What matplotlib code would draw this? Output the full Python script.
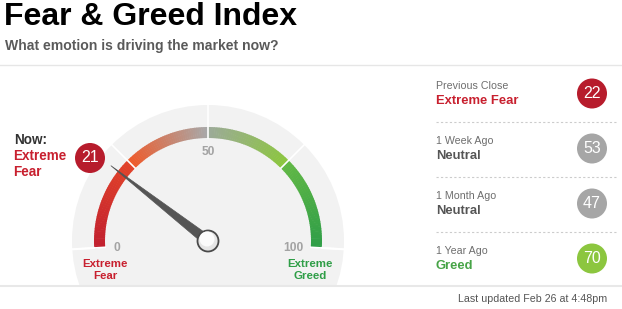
import numpy as np
import matplotlib.pyplot as plt
from matplotlib.patches import Wedge, Circle, Polygon
from matplotlib.colors import to_rgb

plt.rcParams['font.family'] = ['Liberation Sans', 'DejaVu Sans']

# data
now_value = 21
now_label = "Extreme\nFear"
hist_titles = ["Previous Close", "1 Week Ago", "1 Month Ago", "1 Year Ago"]
hist_labels = ["Extreme Fear", "Neutral", "Neutral", "Greed"]
hist_values = [22, 53, 47, 70]
hist_label_colors = ["#c8202f", "#555555", "#555555", "#47a447"]
hist_badge_colors = ["#b71c2c", "#a6a6a6", "#a6a6a6", "#8cc63f"]
segment_edges = [0, 25, 50, 75, 100]
segment_colors = [("#c1202f", "#e2432a"), ("#ef5a2a", "#a8a8a8"),
                  ("#9caa99", "#8cc63f"), ("#62b846", "#2f9e47")]
updated = "Last updated Feb 26 at 4:48pm"

W, H = 622, 309
fig = plt.figure(figsize=(W / 100, H / 100), dpi=100)
ax = fig.add_axes([0, 0, 1, 1])
ax.set_xlim(0, W)
ax.set_ylim(H, 0)
ax.set_aspect('equal')
ax.axis('off')

PT = 0.72  # px -> pt

cx, cy = 208, 241
r_disc, r_out, r_in = 136, 114, 103
ext = 3.5  # arc extends a bit below horizontal


def ang(v):
    return 180 - v * 1.8


def wedge(r, a1, a2, width=None, **kw):
    # visual angles a1<a2 (counterclockwise, y up); axis y is inverted
    return Wedge((cx, cy), r, -a2, -a1, width=width, **kw)


def pol(r, a):
    t = np.radians(a)
    return cx + r * np.cos(t), cy - r * np.sin(t)


# header
ax.text(4, 17, "Fear & Greed Index", fontsize=32 * PT, fontweight='bold',
        color='black', va='center', ha='left')
ax.text(5, 46, "What emotion is driving the market now?", fontsize=14 * PT,
        fontweight='bold', color='#5a5a5a', va='center', ha='left')
ax.plot([0, W], [64.5, 64.5], color='#e6e6e6', lw=1)
ax.plot([0, W], [286, 286], color='#e8e8e8', lw=1.5)

# background disc, clipped at bottom line
disc = Circle((cx, cy), r_disc, color='#f2f2f2', lw=0)
ax.add_patch(disc)
clip = plt.Rectangle((0, 0), W, 285, transform=ax.transData)
disc.set_clip_path(clip)

# colored arc with gradient per segment
for i in range(4):
    v0, v1 = segment_edges[i], segment_edges[i + 1]
    c0, c1 = np.array(to_rgb(segment_colors[i][0])), np.array(to_rgb(segment_colors[i][1]))
    a_start, a_end = ang(v0), ang(v1)
    if i == 0:
        a_start += ext
    if i == 3:
        a_end -= ext
    n = 40
    steps = np.linspace(a_start, a_end, n + 1)
    for k in range(n):
        f = k / (n - 1)
        col = c0 * (1 - f) + c1 * f
        lo, hi = sorted([steps[k], steps[k + 1]])
        ax.add_patch(wedge(r_out, lo - 0.15, hi + 0.15, width=r_out - r_in,
                           facecolor=col, edgecolor='none'))

# white dividers
for a in [ang(0) + ext, ang(25), ang(50), ang(75), ang(100) - ext]:
    x0, y0 = pol(r_in, a)
    x1, y1 = pol(r_disc + 1, a)
    ax.plot([x0, x1], [y0, y1], color='white', lw=1.2)
for a in [ang(0) + ext, ang(100) - ext]:
    x0, y0 = pol(r_disc + 1, a)
    x1, y1 = pol(r_out, a)
    ax.plot([x0, x1], [y0, y1], color='white', lw=1.5)

# scale labels
ax.text(117, 248, "0", fontsize=12 * PT, fontweight='bold',
        color='#a3a3a3', ha='center', va='center')
ax.text(cx, 152, "50", fontsize=12 * PT, fontweight='bold',
        color='#a3a3a3', ha='center', va='center')
ax.text(293, 248, "100", fontsize=12 * PT, fontweight='bold',
        color='#a3a3a3', ha='center', va='center')
ax.text(105, 270, "Extreme\nFear", fontsize=11.5 * PT, fontweight='bold',
        color='#c8202f', ha='center', va='center', linespacing=1.15)
ax.text(310, 270, "Extreme\nGreed", fontsize=11.5 * PT, fontweight='bold',
        color='#2f9e47', ha='center', va='center', linespacing=1.15)

# needle
a = ang(now_value)
tip = pol(123, a)
b1 = pol(5, a + 90)
b2 = pol(5, a - 90)
ax.add_patch(Polygon([tip, b1, b2], closed=True, facecolor='#555555',
                     edgecolor='#555555', lw=0.5))
ax.add_patch(Circle((cx, cy), 10.5, facecolor='#e6e6e6', edgecolor='#4a4a4a', lw=1.3))
ax.add_patch(Circle((cx - 1, cy - 2), 7.5, facecolor='#fbfbfb', edgecolor='none'))

# now label
ax.text(14, 140, "Now:", fontsize=13.5 * PT, fontweight='bold', color='#333333',
        ha='left', va='center')
ax.text(13, 164, now_label, fontsize=13.5 * PT, fontweight='bold', color='#c8202f',
        ha='left', va='center', linespacing=1.1)
ax.add_patch(Circle((90, 158), 15, facecolor='#b71c2c', edgecolor='none'))
ax.text(90, 158, str(now_value), fontsize=16 * PT, color='white',
        ha='center', va='center')

# history panel
for i, (t, lab) in enumerate(zip(hist_titles, hist_labels)):
    y0 = 86 + 55 * i
    ax.text(436, y0, t, fontsize=10.6 * PT, color='#6e6e6e', ha='left', va='center')
    ax.text(436, y0 + 15, lab, fontsize=13 * PT, fontweight='bold',
            color=hist_label_colors[i], ha='left', va='center')
    ax.add_patch(Circle((592, y0 + 7.5), 15, facecolor=hist_badge_colors[i], edgecolor='none'))
    ax.text(592, y0 + 7.5, str(hist_values[i]), fontsize=16 * PT, color='white',
            ha='center', va='center')
    if i < 3:
        ax.plot([436, 617], [y0 + 35.5, y0 + 35.5], color='#cccccc', lw=0.8,
                ls=(0, (2, 2)))

ax.text(607, 299, updated, fontsize=10.6 * PT, color='#555555', ha='right', va='center')

fig.savefig("out.png", dpi=100)
